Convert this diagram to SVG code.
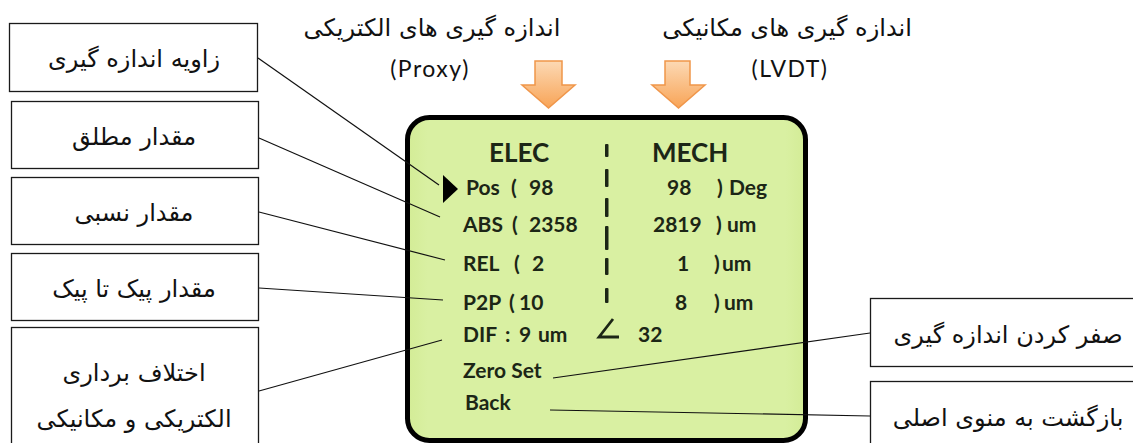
<svg xmlns="http://www.w3.org/2000/svg" width="1133" height="443" viewBox="0 0 1133 443">
  <style>
    .box { fill: #ffffff; stroke: #1a1a1a; stroke-width: 1.3; }
    .fa { font-family: "DejaVu Sans", "Noto Sans", sans-serif; font-size: 24px; fill: #111; text-anchor: middle; }
    .lat { font-family: "Lato", "Open Sans", sans-serif; font-size: 23px; letter-spacing: 1.5px; fill: #111; text-anchor: middle; }
    .lcd { font-family: "Lato", "Open Sans", sans-serif; font-weight: bold; font-size: 21px; fill: #1c2616; }
    .hdr { font-size: 26px; }
    .conn line { stroke: #111; stroke-width: 1.2; }
    .arrow { fill: url(#orange); stroke: #f0964a; stroke-width: 1.5; }
  </style>
  <defs>
    <linearGradient id="orange" x1="0" y1="0" x2="0" y2="1">
      <stop offset="0" stop-color="#fcd9b4"/>
      <stop offset="1" stop-color="#f8a457"/>
    </linearGradient>
    <linearGradient id="lcdfill" x1="0" y1="0" x2="1" y2="0">
      <stop offset="0" stop-color="#d3ec96"/>
      <stop offset="0.05" stop-color="#d9f0a2"/>
      <stop offset="0.95" stop-color="#d9f0a2"/>
      <stop offset="1" stop-color="#d3ec96"/>
    </linearGradient>
  </defs>

  <!-- headings above the display -->
  <g id="title-elec">
    <text class="fa" x="432" y="36">اندازه گیری های الکتریکی</text>
    <text class="lat" x="430" y="77">(Proxy)</text>
  </g>
  <g id="title-mech">
    <text class="fa" x="787" y="36">اندازه گیری های مکانیکی</text>
    <text class="lat" x="790" y="77">(LVDT)</text>
  </g>

  <!-- orange down arrows -->
  <g id="arrow-elec">
    <path class="arrow" d="M535,61 H562 V85 H575 L548.5,108 L522,85 H535 Z"/>
  </g>
  <g id="arrow-mech">
    <path class="arrow" d="M665,61 H690 V85 H705 L678.5,108 L652,85 H665 Z"/>
  </g>

  <!-- LCD display -->
  <g id="display">
    <rect x="407.5" y="117.5" width="398" height="323" rx="22" fill="url(#lcdfill)" stroke="#000" stroke-width="5"/>
    <text class="lcd hdr" x="489" y="162">ELEC</text>
    <text class="lcd hdr" x="652" y="162">MECH</text>
    <!-- dashed divider -->
    <g fill="#1c2616">
      <rect x="605" y="144" width="3.5" height="13" rx="1"/>
      <rect x="605" y="169" width="3.5" height="18" rx="1"/>
      <rect x="605" y="198" width="3.5" height="19" rx="1"/>
      <rect x="605" y="226" width="3.5" height="24" rx="1"/>
      <rect x="605" y="258" width="3.5" height="17" rx="1"/>
      <rect x="605" y="288" width="3.5" height="15" rx="1"/>
    </g>
    <polygon points="443,175 458,189 443,203" fill="#000"/>
    <!-- electrical column -->
    <text class="lcd" y="195"><tspan x="466">Pos</tspan><tspan x="511">(</tspan><tspan x="529">98</tspan></text>
    <text class="lcd" y="232"><tspan x="463">ABS</tspan><tspan x="512">(</tspan><tspan x="529">2358</tspan></text>
    <text class="lcd" y="271"><tspan x="463">REL</tspan><tspan x="514">(</tspan><tspan x="532">2</tspan></text>
    <text class="lcd" y="310"><tspan x="463">P2P</tspan><tspan x="509">(</tspan><tspan x="519">10</tspan></text>
    <text class="lcd" y="342"><tspan x="463">DIF</tspan><tspan x="505">:</tspan><tspan x="519">9</tspan><tspan x="538">um</tspan></text>
    <text class="lcd" x="463" y="378">Zero Set</text>
    <text class="lcd" x="465" y="410">Back</text>
    <!-- mechanical column -->
    <text class="lcd" y="195"><tspan x="667">98</tspan><tspan x="717">)</tspan><tspan x="729">Deg</tspan></text>
    <text class="lcd" y="232"><tspan x="653">2819</tspan><tspan x="716">)</tspan><tspan x="727">um</tspan></text>
    <text class="lcd" y="271"><tspan x="677">1</tspan><tspan x="714">)</tspan><tspan x="722">um</tspan></text>
    <text class="lcd" y="310"><tspan x="675">8</tspan><tspan x="714">)</tspan><tspan x="724">um</tspan></text>
    <path d="M613,319 L599,337 H619" fill="none" stroke="#1c2616" stroke-width="2.8"/>
    <text class="lcd" x="638" y="342">32</text>
  </g>

  <!-- callout boxes, left -->
  <g id="n-angle">
    <rect class="box" x="9.5" y="23.5" width="248" height="68"/>
    <text class="fa" x="134" y="67">زاویه اندازه گیری</text>
  </g>
  <g id="n-abs">
    <rect class="box" x="11.5" y="101.5" width="247" height="67"/>
    <text class="fa" x="134" y="145">مقدار مطلق</text>
  </g>
  <g id="n-rel">
    <rect class="box" x="11.5" y="177.5" width="247" height="67"/>
    <text class="fa" x="134" y="221">مقدار نسبی</text>
  </g>
  <g id="n-p2p">
    <rect class="box" x="11.5" y="253.5" width="247" height="67"/>
    <text class="fa" x="134" y="297">مقدار پیک تا پیک</text>
  </g>
  <g id="n-dif">
    <rect class="box" x="11.5" y="327.5" width="247" height="130"/>
    <text class="fa" x="134" y="381">اختلاف برداری</text>
    <text class="fa" x="134" y="427">الکتریکی و مکانیکی</text>
  </g>

  <!-- callout boxes, right -->
  <g id="n-zero">
    <rect class="box" x="870.5" y="298.5" width="270" height="68"/>
    <text class="fa" x="1008" y="343">صفر کردن اندازه گیری</text>
  </g>
  <g id="n-back">
    <rect class="box" x="870.5" y="381.5" width="270" height="80"/>
    <text class="fa" x="1008" y="426">بازگشت به منوی اصلی</text>
  </g>

  <!-- leader lines -->
  <g id="connectors" class="conn">
    <line x1="258" y1="58" x2="439" y2="185"/>
    <line x1="259" y1="138" x2="440" y2="217"/>
    <line x1="259" y1="212" x2="445" y2="260"/>
    <line x1="259" y1="288" x2="443" y2="300"/>
    <line x1="259" y1="391" x2="442" y2="340"/>
    <line x1="870" y1="333" x2="553" y2="378"/>
    <line x1="870" y1="416" x2="550" y2="410"/>
  </g>
</svg>
